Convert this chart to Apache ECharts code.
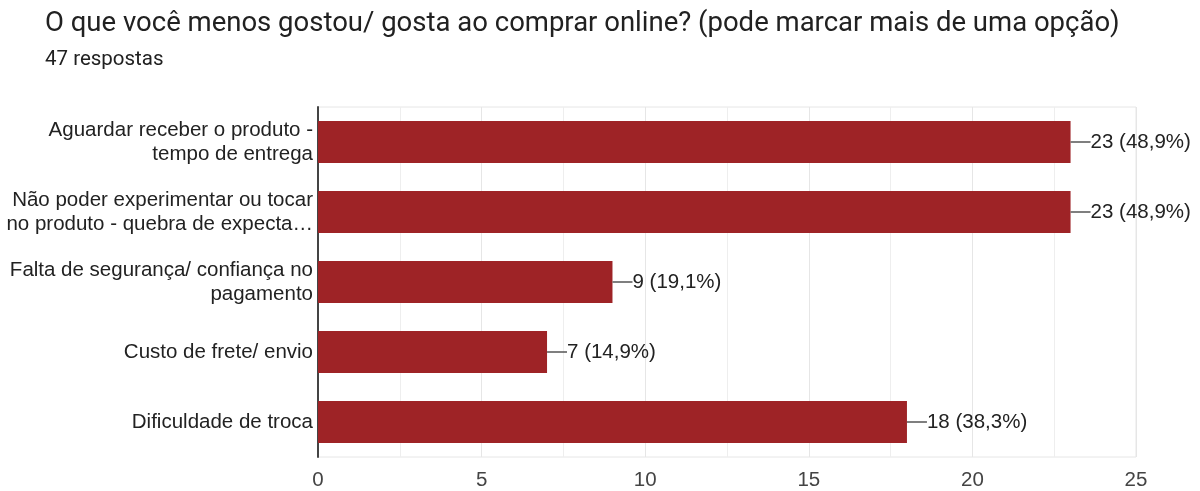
<!DOCTYPE html>
<html>
<head>
<meta charset="utf-8">
<script src="https://cdn.jsdelivr.net/npm/echarts@6/dist/echarts.min.js"></script>
<style>
  html, body { margin: 0; padding: 0; background: #fff; }
  #chart { width: 1200px; height: 491px; }
</style>
</head>
<body>
<div id="chart"></div>
<script>
// Survey answers, top to bottom
const categories = [
  'Aguardar receber o produto -\ntempo de entrega',
  'Não poder experimentar ou tocar\nno produto - quebra de expecta…',
  'Falta de segurança/ confiança no\npagamento',
  'Custo de frete/ envio',
  'Dificuldade de troca'
];
const counts = [23, 23, 9, 7, 18];
const percents = ['48,9%', '48,9%', '19,1%', '14,9%', '38,3%'];
const xTicks = [0, 5, 10, 15, 20, 25];

const chart = echarts.init(document.getElementById('chart'));

chart.setOption({
  animation: false,
  backgroundColor: '#ffffff',
  title: {
    text: 'O que você menos gostou/ gosta ao comprar online? (pode marcar mais de uma opção)',
    subtext: '47 respostas',
    left: 40,
    top: 5,
    itemGap: 11,
    textStyle: { fontFamily: 'Roboto', fontSize: 27.5, fontWeight: 'normal', color: '#212121' },
    subtextStyle: { fontFamily: 'Roboto', fontSize: 20.5, color: '#212121' }
  },
  grid: {
    left: 318, right: 64, top: 107, bottom: 34,
    show: true, borderColor: '#e6e6e6', borderWidth: 1
  },
  xAxis: {
    type: 'value',
    min: xTicks[0],
    max: xTicks[xTicks.length - 1],
    interval: 5,
    axisLine: { show: false },
    axisTick: { show: false },
    axisLabel: {
      margin: 13,
      fontFamily: 'Liberation Sans', fontSize: 20.5, color: '#444'
    },
    splitLine: { lineStyle: { color: '#e6e6e6', width: 1 } },
    minorTick: { show: false, splitNumber: 2 },
    minorSplitLine: { show: true, lineStyle: { color: '#eeeeee', width: 1 } }
  },
  yAxis: {
    type: 'category',
    inverse: true,
    data: categories,
    axisLine: { show: true, lineStyle: { color: '#444', width: 2 } },
    axisTick: { show: false },
    axisLabel: {
      margin: 5,
      align: 'right',
      lineHeight: 24,
      fontFamily: 'Liberation Sans', fontSize: 20.5, color: '#222'
    }
  },
  series: [{
    type: 'bar',
    data: counts,
    barWidth: '60%',
    itemStyle: { color: '#9e2326' },
    label: {
      show: true,
      position: 'right',
      distance: 0,
      formatter: p => '{l|}{t|' + p.value + ' (' + percents[p.dataIndex] + ')}',
      rich: {
        l: { width: 20, height: 1.5, backgroundColor: '#555' },
        t: { fontFamily: 'Liberation Sans', fontSize: 20.5, color: '#222' }
      }
    }
  }]
});
</script>
</body>
</html>
